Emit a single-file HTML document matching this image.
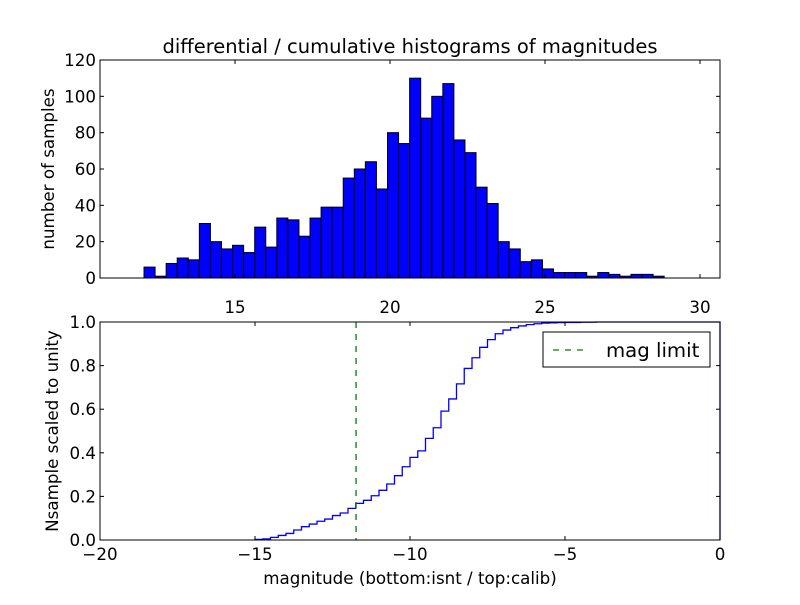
<!DOCTYPE html>
<html><head><meta charset="utf-8"><style>
body{margin:0;background:#fff;}
svg text{font-family:"DejaVu Sans","Liberation Sans",sans-serif;fill:#000;}
</style></head><body>
<svg id="fig" width="800" height="600" viewBox="0 0 800 600" xmlns="http://www.w3.org/2000/svg">
<rect width="800" height="600" fill="#fff"/>
<g id="topg"></g>
<g id="botg"></g>
</svg>
<script>
const histCounts=[6,1,8,11,10,30,20,16,18,14,28,17,33,32,23,33,39,39,55,60,64,49,80,74,110,88,100,107,76,69,50,41,20,16,9,10,5,3,3,3,1,3,2,1,2,2,1];
const histStart=12.065, histBinWidth=0.357;
const topXTicks=[15,20,25,30];
const topYTicks=[0,20,40,60,80,100,120];
const cumStart=-15, cumBinWidth=0.25;
const cumValues=[0.003,0.005,0.012,0.021,0.03,0.046,0.061,0.073,0.086,0.096,0.112,0.124,0.145,0.168,0.182,0.203,0.228,0.257,0.295,0.336,0.379,0.409,0.466,0.515,0.591,0.647,0.716,0.787,0.836,0.884,0.919,0.946,0.963,0.974,0.982,0.988,0.992,0.995,0.996,0.997,0.998,0.998,0.999,0.999,1,1,1,1,1,1,1,1,1,1,1,1,1,1,1,1];
const magLimit=-11.74;
const botXTicks=[-20,-15,-10,-5,0];
const botYTicks=[0,0.2,0.4,0.6,0.8,1.0];
const NS="http://www.w3.org/2000/svg";
function mk(p,t,a,txt){const e=document.createElementNS(NS,t);for(const k in a)e.setAttribute(k,a[k]);if(txt!==undefined)e.textContent=txt;p.appendChild(e);return e;}
const L=100,R=720;
const FS=16.7;
// top
const topG=document.getElementById('topg');
const tT=60,tB=278;
const tx=v=>L+(v-10.645)*(R-L)/20;
const ty=v=>tB-v*(tB-tT)/120;
histCounts.forEach((c,i)=>{
 const x0=tx(histStart+i*histBinWidth),x1=tx(histStart+(i+1)*histBinWidth);
 const r=mk(topG,'rect',{x:x0,y:ty(c),width:x1-x0,height:tB-ty(c),fill:'#0000ff',stroke:'#000','stroke-width':1});
 
 
});
mk(topG,'rect',{x:L,y:tT,width:R-L,height:tB-tT,fill:'none',stroke:'#000','stroke-width':1,});
topXTicks.forEach(v=>{const x=tx(v);
 mk(topG,'line',{x1:x,x2:x,y1:tB,y2:tB-4,stroke:'#000'});mk(topG,'line',{x1:x,x2:x,y1:tT,y2:tT+4,stroke:'#000'});
 const t=mk(topG,'text',{x:x,y:tB+35,'text-anchor':'middle','font-size':FS},v);
 
 });
topYTicks.forEach(v=>{const y=ty(v);
 mk(topG,'line',{x1:L,x2:L+4,y1:y,y2:y,stroke:'#000'});mk(topG,'line',{x1:R,x2:R-4,y1:y,y2:y,stroke:'#000'});
 const t=mk(topG,'text',{x:L-4,y:y+6,'text-anchor':'end','font-size':FS},v);
 
 });
mk(topG,'text',{x:410,y:53,'text-anchor':'middle','font-size':19.5,},'differential / cumulative histograms of magnitudes');
mk(topG,'text',{x:0,y:0,'text-anchor':'middle','font-size':FS,transform:'translate(54,169) rotate(-90)',},'number of samples');
// bottom
const botG=document.getElementById('botg');
const bT=322,bB=540;
const bx=v=>L+(v+20)*(R-L)/20;
const by=v=>bB-v*(bB-bT);
let d=`M${bx(cumStart)},${by(0)}`;
cumValues.forEach((v,i)=>{d+=` L${bx(cumStart+i*cumBinWidth)},${by(v)} L${bx(cumStart+(i+1)*cumBinWidth)},${by(v)}`;});
d+=` L${bx(cumStart+cumValues.length*cumBinWidth)},${by(0)}`;
mk(botG,'path',{d:d,fill:'none',stroke:'#0000ff','stroke-width':1.3,});
mk(botG,'line',{x1:bx(magLimit),x2:bx(magLimit),y1:bT,y2:bB,stroke:'#008000','stroke-width':1.3,'stroke-dasharray':'6,6',});
mk(botG,'rect',{x:L,y:bT,width:R-L,height:bB-bT,fill:'none',stroke:'#000','stroke-width':1,});
botXTicks.forEach(v=>{const x=bx(v);
 mk(botG,'line',{x1:x,x2:x,y1:bB,y2:bB-4,stroke:'#000'});mk(botG,'line',{x1:x,x2:x,y1:bT,y2:bT+4,stroke:'#000'});
 const t=mk(botG,'text',{x:x,y:bB+20,'text-anchor':'middle','font-size':FS},v===0?'0':'\u2212'+Math.abs(v));
 
 });
botYTicks.forEach(v=>{const y=by(v);
 mk(botG,'line',{x1:L,x2:L+4,y1:y,y2:y,stroke:'#000'});mk(botG,'line',{x1:R,x2:R-4,y1:y,y2:y,stroke:'#000'});
 const t=mk(botG,'text',{x:L-4,y:y+6,'text-anchor':'end','font-size':FS},v.toFixed(1));
 
 });
mk(botG,'text',{x:410,y:584,'text-anchor':'middle','font-size':FS,},'magnitude (bottom:isnt / top:calib)');
mk(botG,'text',{x:0,y:0,'text-anchor':'middle','font-size':FS,transform:'translate(58,431) rotate(-90)',},'Nsample scaled to unity');
const lg=mk(botG,'g',{});
mk(lg,'rect',{x:543,y:332,width:167,height:35,fill:'#fff',stroke:'#000','stroke-width':1});
mk(lg,'line',{x1:553,x2:585,y1:350,y2:350,stroke:'#008000','stroke-width':1.3,'stroke-dasharray':'6,6'});
mk(lg,'text',{x:606,y:357,'font-size':19.7,},'mag limit');
</script>
</body></html>
